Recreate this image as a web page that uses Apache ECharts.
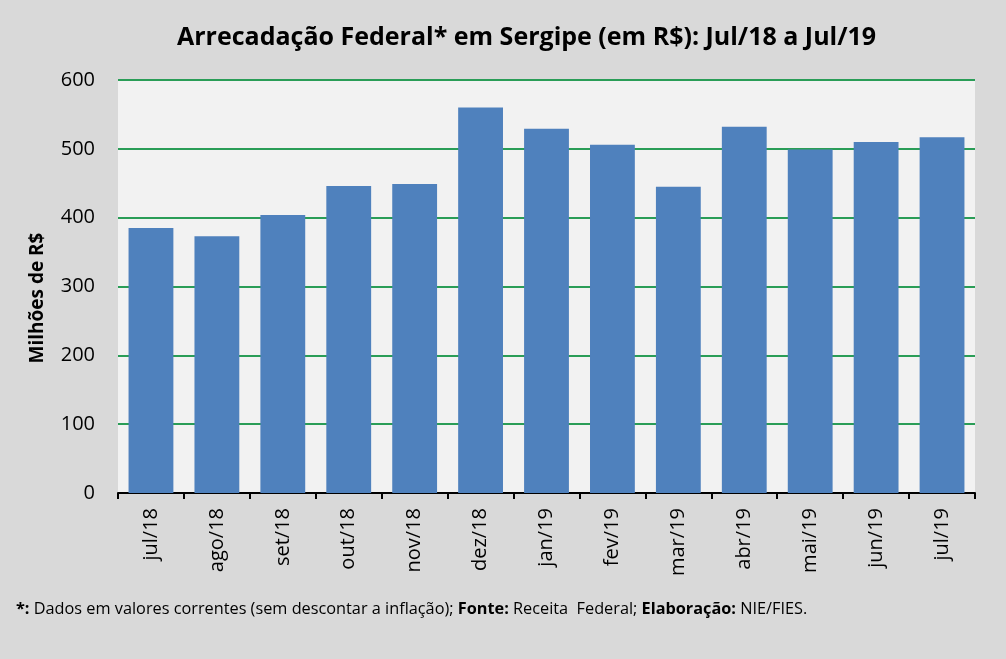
<!DOCTYPE html>
<html>
<head>
<meta charset="utf-8">
<script src="https://cdn.jsdelivr.net/npm/echarts@6/dist/echarts.min.js"></script>
<style>
  html, body { margin: 0; padding: 0; background: #d9d9d9; }
  #main { width: 1006px; height: 659px; }
</style>
</head>
<body>
<div id="main"></div>
<script>
// meses e valores (milhões de R$)
var meses = ['jul/18', 'ago/18', 'set/18', 'out/18', 'nov/18', 'dez/18', 'jan/19',
  'fev/19', 'mar/19', 'abr/19', 'mai/19', 'jun/19', 'jul/19'];
var arrecadacao = [385, 373, 404, 446, 449, 560, 529, 506, 445, 532, 499, 510, 517];
var yTicks = [0, 100, 200, 300, 400, 500, 600];

var chart = echarts.init(document.getElementById('main'));
var fonte = 'Open Sans, Noto Sans, sans-serif';

var option = {
  backgroundColor: '#d9d9d9',
  animation: false,
  title: {
    text: 'Arrecadação Federal* em Sergipe (em R$): Jul/18 a Jul/19',
    left: 172,
    top: 20,
    textStyle: {
      fontFamily: fonte,
      fontSize: 25,
      fontWeight: 'bold',
      color: '#000'
    }
  },
  grid: {
    left: 118,
    right: 31,
    top: 80,
    bottom: 166,
    show: true,
    backgroundColor: '#f2f2f2',
    borderWidth: 0
  },
  xAxis: {
    type: 'category',
    data: meses,
    axisLine: { lineStyle: { color: '#000', width: 2 } },
    axisTick: { show: true, length: 6, lineStyle: { color: '#000', width: 2 } },
    axisLabel: {
      rotate: 90,
      margin: 15,
      fontFamily: fonte,
      fontSize: 20,
      color: '#000'
    }
  },
  yAxis: {
    type: 'value',
    min: yTicks[0],
    max: yTicks[yTicks.length - 1],
    interval: 100,
    axisLine: { show: false },
    axisTick: { show: false },
    axisLabel: {
      margin: 23,
      fontFamily: fonte,
      fontSize: 20,
      color: '#000'
    },
    splitLine: { lineStyle: { color: '#2a9d57', width: 2 } }
  },
  series: [{
    type: 'bar',
    data: arrecadacao,
    barCategoryGap: '32%',
    itemStyle: { color: '#4f81bd' }
  }],
  graphic: [{
    type: 'text',
    x: 38,
    y: 298,
    rotation: Math.PI / 2,
    style: {
      text: 'Milhões de R$',
      font: 'bold 19px ' + fonte,
      fill: '#000',
      align: 'center',
      verticalAlign: 'middle'
    }
  }, {
    type: 'text',
    left: 16,
    top: 601,
    style: {
      text: '{b|*:} Dados em valores correntes (sem descontar a inflação); {b|Fonte:} Receita  Federal; {b|Elaboração:} NIE/FIES.',
      font: '16.3px ' + fonte,
      fill: '#000',
      rich: {
        b: { fontFamily: fonte, fontSize: 16.3, fontWeight: 'bold', fill: '#000' }
      }
    }
  }]
};

chart.setOption(option);
</script>
</body>
</html>
